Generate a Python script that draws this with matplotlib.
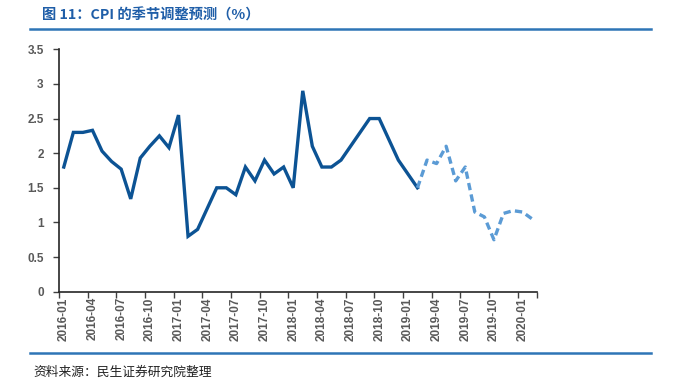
import matplotlib.pyplot as plt
from matplotlib.lines import Line2D

plt.rcParams['font.family'] = ['Liberation Sans', 'Noto Sans CJK SC', 'DejaVu Sans']

# 月份 2016-01 ~ 2020-02
months = []
for y in range(2016, 2021):
    for m in range(1, 13):
        months.append('%d-%02d' % (y, m))
months = months[:50]

# 实际值 2016-01 ~ 2019-02
actual = [1.8, 2.3, 2.3, 2.33, 2.03, 1.88, 1.77, 1.34, 1.93, 2.1,
          2.25, 2.08, 2.55, 0.8, 0.9, 1.2, 1.5, 1.5, 1.4, 1.8,
          1.6, 1.9, 1.7, 1.8, 1.5, 2.9, 2.1, 1.8, 1.8, 1.9,
          2.1, 2.3, 2.5, 2.5, 2.2, 1.9, 1.7, 1.5]
# 预测值 2019-02 ~ 2020-02
forecast = [1.5, 1.9, 1.85, 2.1, 1.6, 1.8, 1.15, 1.08, 0.75, 1.13,
            1.17, 1.15, 1.05]

fig = plt.figure(figsize=(6.76, 3.8), dpi=100)
ax = fig.add_axes([0.0873, 0.2324, 0.7070, 0.6379])

xa = list(range(len(actual)))
xf = list(range(len(actual) - 1, len(actual) - 1 + len(forecast)))
ax.plot(xa, actual, color='#0c5394', lw=2.4, solid_joinstyle='miter')
ax.plot(xf, forecast, color='#5b9bd5', lw=2.4, ls=(0, (2.2, 1.3)))

ax.set_ylim(0, 3.5)
ax.set_yticks([0, 0.5, 1, 1.5, 2, 2.5, 3, 3.5])
ax.set_yticklabels(['0', '0.5', '1', '1.5', '2', '2.5', '3', '3.5'])
ax.set_xlim(-0.5, len(months) - 0.5)

# 刻度线在分类边界，标签在中间
bounds = [i - 0.5 for i in range(0, len(months), 3)] + [len(months) - 0.5]
ax.set_xticks(bounds)
ax.set_xticklabels([])
lab_pos = list(range(0, len(months), 3))
ax.set_xticks(lab_pos, minor=True)
ax.set_xticklabels([months[i] for i in lab_pos], minor=True, rotation=90)
ax.tick_params(axis='x', which='minor', length=0, pad=4)
ax.tick_params(axis='x', which='major', length=4, width=1, color='#404040')
ax.tick_params(axis='y', length=4, width=1, color='#404040', pad=7)
for lab in ax.get_xticklabels(minor=True) + ax.get_yticklabels():
    lab.set_fontsize(8.5)
    lab.set_fontweight('bold')
    lab.set_color('#595959')

for s in ['top', 'right']:
    ax.spines[s].set_visible(False)
for s in ['left', 'bottom']:
    ax.spines[s].set_color('#262626')
    ax.spines[s].set_linewidth(1.2)

# 标题和装饰线
fig.text(0.062, 0.958, '图 11：CPI 的季节调整预测（%）', fontsize=10.3,
         fontweight='bold', color='#1f5ea8', va='center',
         family=['Noto Sans CJK SC', 'DejaVu Sans'])
fig.add_artist(Line2D([0.044, 0.963], [0.925, 0.925], color='#2e75b6', lw=1.8))
fig.add_artist(Line2D([0.044, 0.963], [0.072, 0.072], color='#2e75b6', lw=1.8))
fig.text(0.049, 0.019, '资料来源：民生证券研究院整理', fontsize=9.2,
         color='#222222', va='center', family=['Noto Sans CJK SC', 'DejaVu Sans'])

plt.savefig('out.png', dpi=100)
